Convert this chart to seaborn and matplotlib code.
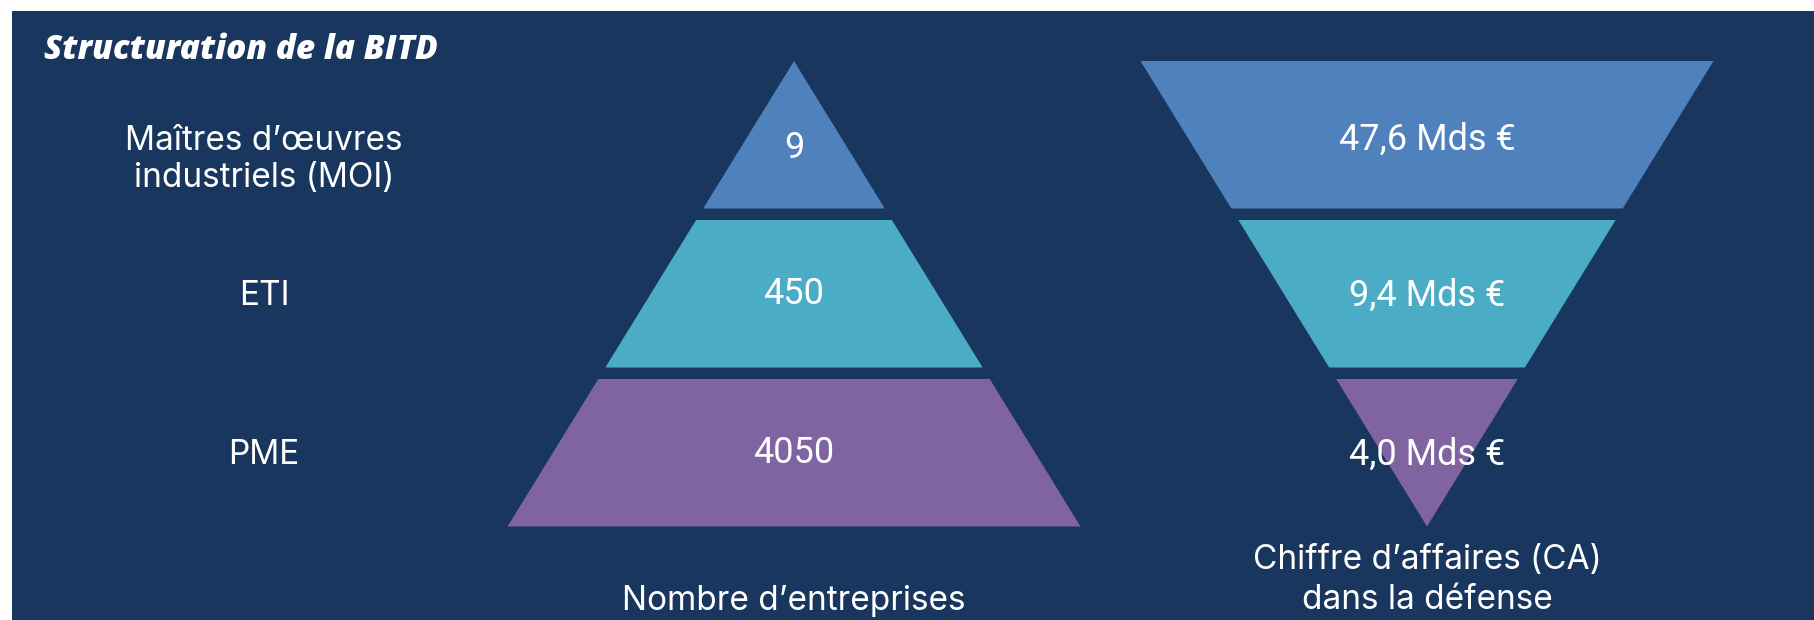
import matplotlib
matplotlib.use("Agg")
import matplotlib.pyplot as plt
import seaborn as sns

# ---- data ----
title = "Structuration de la BITD"
categories = ["Maîtres d’œuvres\nindustriels (MOI)", "ETI", "PME"]
nb_entreprises = [9, 450, 4050]
ca_labels = ["47,6 Mds €", "9,4 Mds €", "4,0 Mds €"]
left_axis_title = "Nombre d’entreprises"
right_axis_title = "Chiffre d’affaires (CA)\ndans la défense"
tier_colors = ["#4F81BD", "#4BACC6", "#8064A2"]

# ---- style ----
sns.set_theme(style="white")
BG = "#18365E"
plt.rcParams["font.family"] = ["Inter", "DejaVu Sans"]

W, H = 1815, 620
fig = plt.figure(figsize=(W / 100, H / 100), dpi=100, facecolor="white")
ax = fig.add_axes([12 / W, 0, (W - 12) / W, (H - 11) / H])
ax.set_facecolor(BG)
ax.set_xlim(12, W)
ax.set_ylim(H, 11)
ax.set_xticks([])
ax.set_yticks([])
sns.despine(ax=ax, left=True, bottom=True)

# layout (pixel units)
y0, th, gap = 61, 147.5, 11.5
y_end = y0 + 3 * th + 2 * gap
half_base = 286.5
slope = half_base / (y_end - y0)
cx_pyr, cx_fun, cx_lab = 794, 1427, 264

for i, (cat, n, ca, col) in enumerate(zip(categories, nb_entreprises, ca_labels, tier_colors)):
    top = y0 + i * (th + gap)
    bot = top + th
    # pyramid
    ht, hb = slope * (top - y0), slope * (bot - y0)
    ax.fill([cx_pyr - ht, cx_pyr + ht, cx_pyr + hb, cx_pyr - hb],
            [top, top, bot, bot], color=col, lw=0)
    # funnel
    ft, fb = slope * (y_end - top), slope * (y_end - bot)
    ax.fill([cx_fun - ft, cx_fun + ft, cx_fun + fb, cx_fun - fb],
            [top, top, bot, bot], color=col, lw=0)
    mid = (top + bot) / 2
    ax.text(cx_pyr, mid + (13 if i == 0 else 0), str(n), color="white", ha="center",
            va="center", fontsize=26, family=["Roboto", "DejaVu Sans"])
    ax.text(cx_fun, mid + (5 if i == 0 else 2), ca, color="white", ha="center",
            va="center", fontsize=26, family=["Roboto", "DejaVu Sans"])
    ax.text(cx_lab, mid + (25 if i == 0 else 2), cat, color="white", ha="center",
            va="center", fontsize=24, linespacing=1.2)

ax.text(cx_pyr, 601, left_axis_title, color="white", ha="center", va="center", fontsize=24)
ax.text(cx_fun, 580, right_axis_title, color="white", ha="center", va="center",
        fontsize=24, linespacing=1.3)
ax.text(44, 50, title, color="white", ha="left", va="center", fontsize=24,
        fontweight="heavy", fontstyle="italic", family=["Open Sans", "Lato", "DejaVu Sans"])

fig.savefig("out.png", dpi=100, facecolor="white")
